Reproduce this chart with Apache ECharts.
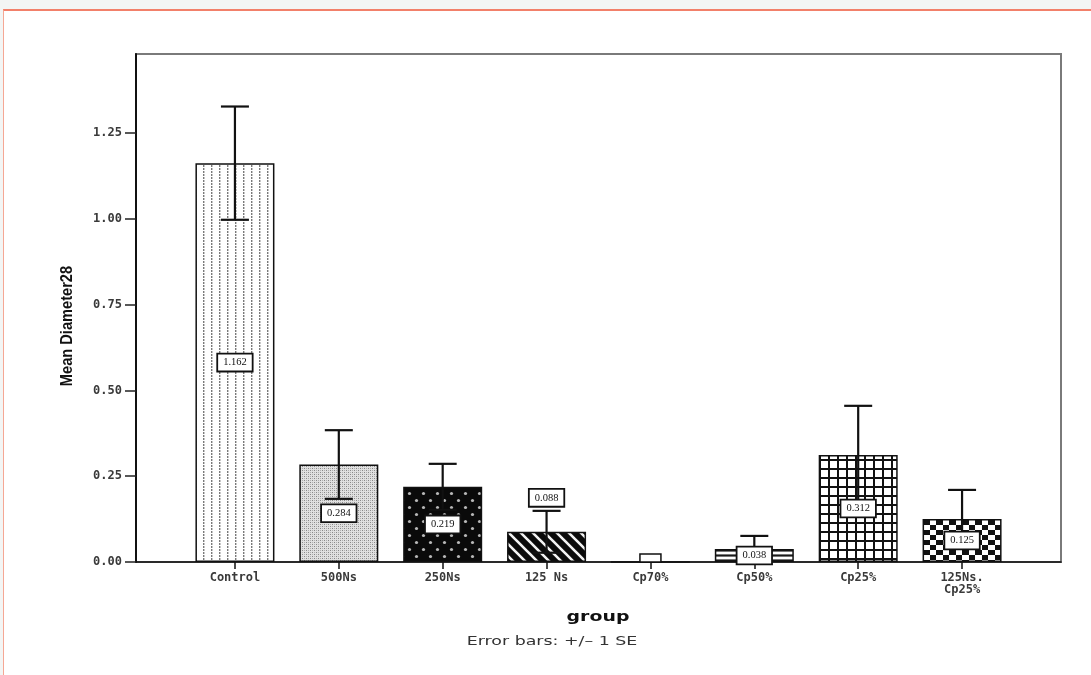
<!DOCTYPE html>
<html>
<head>
<meta charset="utf-8">
<script src="https://cdn.jsdelivr.net/npm/echarts@6/dist/echarts.min.js"></script>
<style>
  html, body { margin: 0; padding: 0; background: #f3f5f4; overflow: hidden; }
  #panel { position: absolute; left: 3px; top: 9px; width: 1110px; height: 700px;
           background: #ffffff; border-top: 2px solid #f2806a; border-left: 1.5px solid #f5a794; }
  #chart { position: absolute; left: 0; top: 0; width: 1091px; height: 675px; }
</style>
</head>
<body>
<div id="panel"></div>
<div id="chart"></div>
<script>
// Group means of Diameter28 with +/- 1 standard error
const categories = ['Control', '500Ns', '250Ns', '125 Ns', 'Cp70%', 'Cp50%', 'Cp25%', '125Ns.\nCp25%'];
const means      = [1.162, 0.284, 0.219, 0.088, 0.000, 0.038, 0.312, 0.125];
const stdErrors  = [0.165, 0.100, 0.067, 0.061, 0.000, 0.038, 0.143, 0.085];
const yMax = 1.48;
const yStep = 0.25;
// groups whose value box sits above the error bar instead of inside the bar
const labelAboveGroups = ['125 Ns'];

// ---- fill patterns for each bar ----
function tile(w, h, draw) {
  const c = document.createElement('canvas');
  c.width = w; c.height = h;
  draw(c.getContext('2d'), w, h);
  return c;
}
const patterns = [
  // dotted vertical lines on white
  tile(8, 3, (g, w, h) => { g.fillStyle = '#fff'; g.fillRect(0, 0, w, h); g.fillStyle = '#7a7a7a'; g.fillRect(3, 0, 1, 2);
    g.fillStyle = '#c8c8c8'; g.fillRect(4, 0, 1, 2); }),
  // fine grey stipple
  tile(4, 4, (g, w, h) => { g.fillStyle = '#e0e0e0'; g.fillRect(0, 0, w, h); g.fillStyle = '#888';
    g.fillRect(0, 0, 1, 1); g.fillRect(2, 2, 1, 1); g.fillStyle = '#b0b0b0'; g.fillRect(2, 0, 1, 1); g.fillRect(0, 2, 1, 1); }),
  // white dots on black
  tile(14, 14, (g, w, h) => { g.fillStyle = '#0a0a0a'; g.fillRect(0, 0, w, h); g.fillStyle = '#b8b8b8';
    g.beginPath(); g.arc(3.5, 3.5, 1.6, 0, Math.PI * 2); g.fill();
    g.beginPath(); g.arc(10.5, 10.5, 1.6, 0, Math.PI * 2); g.fill(); }),
  // white diagonal stripes on black
  tile(12, 12, (g, w, h) => { g.fillStyle = '#0a0a0a'; g.fillRect(0, 0, w, h); g.strokeStyle = '#f2f2f2'; g.lineWidth = 2.6;
    g.beginPath(); g.moveTo(-2, -2); g.lineTo(w + 2, h + 2);
    g.moveTo(-2 - w, -2); g.lineTo(2, h + 2); g.moveTo(w - 2, -2); g.lineTo(2 * w + 2, h + 2); g.stroke(); }),
  // empty
  tile(4, 4, (g, w, h) => { g.fillStyle = '#fff'; g.fillRect(0, 0, w, h); }),
  // horizontal stripes
  tile(2, 5, (g, w, h) => { g.fillStyle = '#fff'; g.fillRect(0, 0, w, h);
    g.fillStyle = '#1a1a1a'; g.fillRect(0, 0, w, 1); g.fillStyle = '#777'; g.fillRect(0, 1, w, 1); g.fillRect(0, 4, w, 1); }),
  // square grid
  tile(9, 9, (g, w, h) => { g.fillStyle = '#fff'; g.fillRect(0, 0, w, h); g.fillStyle = '#111';
    g.fillRect(0, 0, 2, h); g.fillRect(0, 0, w, 2); }),
  // checkerboard
  tile(13, 10, (g, w, h) => { g.fillStyle = '#fff'; g.fillRect(0, 0, w, h); g.fillStyle = '#111';
    g.fillRect(0, 0, 7, 5); g.fillRect(7, 5, 6, 5); })
];

const chart = echarts.init(document.getElementById('chart'), null, { renderer: 'canvas' });

const option = {
  backgroundColor: 'transparent',
  animation: false,
  grid: [
    // outer frame with the value axis
    { left: 136, right: 30, top: 54, bottom: 113, show: true, borderColor: '#7a7a7a', borderWidth: 2, backgroundColor: 'transparent' },
    // bar area (category bands)
    { left: 183, right: 77, top: 54, bottom: 113 }
  ],
  xAxis: [
    { gridIndex: 0, type: 'value', min: 0, max: 1, show: true,
      axisLine: { show: true, lineStyle: { color: '#111', width: 1.5 } },
      axisTick: { show: false }, axisLabel: { show: false }, splitLine: { show: false } },
    { gridIndex: 1, type: 'category', data: categories,
      axisLine: { show: false },
      axisTick: { show: true, alignWithLabel: true, length: 7, lineStyle: { color: '#111', width: 1.5 } },
      axisLabel: { margin: 10, color: '#3a3a3a', fontFamily: '"DejaVu Sans Mono", monospace', fontWeight: 'bold', fontSize: 12, lineHeight: 12 } }
  ],
  yAxis: [
    { gridIndex: 0, type: 'value', min: 0, max: yMax, interval: yStep,
      axisLine: { show: true, lineStyle: { color: '#111', width: 2 } },
      axisTick: { show: true, length: 11, lineStyle: { color: '#222', width: 1.5 } },
      axisLabel: { show: true, margin: 14, color: '#3a3a3a', fontFamily: '"DejaVu Sans Mono", monospace', fontWeight: 'bold', fontSize: 12,
                   showMaxLabel: false, formatter: v => v.toFixed(2) },
      splitLine: { show: false } },
    { gridIndex: 1, type: 'value', min: 0, max: yMax, show: false }
  ],
  series: [
    {
      type: 'bar', xAxisIndex: 1, yAxisIndex: 1, barWidth: 79, z: 2,
      data: means.map((v, i) => ({
        value: v,
        itemStyle: { color: { image: patterns[i], repetition: 'repeat' }, borderColor: '#111', borderWidth: 1.5 }
      }))
    },
    {
      // error bars, +/- 1 SE
      type: 'custom', xAxisIndex: 1, yAxisIndex: 1, z: 3,
      data: means.map((m, i) => [i, m, stdErrors[i]]),
      encode: { x: 0, y: 1 },
      renderItem: (params, api) => {
        const i = api.value(0), m = api.value(1), se = api.value(2);
        if (se <= 0) return null;
        const hi = api.coord([i, m + se]);
        const lo = api.coord([i, m - se]);
        const half = 14;
        const st = { stroke: '#111', lineWidth: 2.2 };
        return { type: 'group', children: [
          { type: 'line', shape: { x1: hi[0], y1: hi[1], x2: lo[0], y2: lo[1] }, style: st },
          { type: 'line', shape: { x1: hi[0] - half, y1: hi[1], x2: hi[0] + half, y2: hi[1] }, style: st },
          { type: 'line', shape: { x1: lo[0] - half, y1: lo[1], x2: lo[0] + half, y2: lo[1] }, style: st }
        ] };
      }
    },
    {
      // value boxes
      type: 'custom', xAxisIndex: 1, yAxisIndex: 1, z: 4,
      data: means.map((m, i) => [i, m, stdErrors[i]]),
      encode: { x: 0, y: 1 },
      renderItem: (params, api) => {
        const i = api.value(0), m = api.value(1), se = api.value(2);
        const base = api.coord([i, 0]);
        if (m === 0) {
          return { type: 'rect', shape: { x: base[0] - 10.5, y: base[1] - 8, width: 21, height: 8 },
                   style: { fill: '#fff', stroke: '#111', lineWidth: 1.5 } };
        }
        const top = api.coord([i, m]);
        let y = (top[1] + base[1]) / 2;
        if (labelAboveGroups.indexOf(categories[i]) >= 0) {
          y = api.coord([i, m + se])[1] - 13;
        }
        return { type: 'text', x: base[0], y: y,
          style: { text: m.toFixed(3), font: '10.5px "Liberation Serif", serif', fill: '#111',
                   align: 'center', verticalAlign: 'middle',
                   backgroundColor: '#fff', borderColor: '#111', borderWidth: 1.8, padding: [3, 5, 2, 5] } };
      }
    }
  ],
  graphic: [
    { type: 'text', x: 67, y: 326, rotation: Math.PI / 2, scaleX: 0.86,
      style: { text: 'Mean Diameter28', font: 'bold 17px "Liberation Sans", Arial, sans-serif', fill: '#111',
               align: 'center', verticalAlign: 'middle' } },
    { type: 'text', x: 598, y: 617, scaleX: 1.35,
      style: { text: 'group', font: 'bold 14px "DejaVu Sans", sans-serif', fill: '#111', align: 'center', verticalAlign: 'middle' } },
    { type: 'text', x: 552, y: 642, scaleX: 1.45,
      style: { text: 'Error bars: +/\u2013 1 SE', font: '12px "DejaVu Sans", sans-serif', fill: '#333', align: 'center', verticalAlign: 'middle' } }
  ]
};

chart.setOption(option);
</script>
</body>
</html>
